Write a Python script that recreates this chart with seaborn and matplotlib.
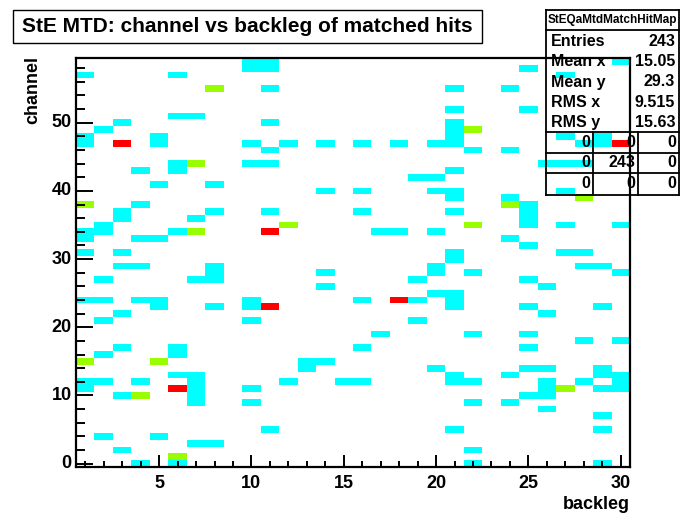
import numpy as np
import pandas as pd
import matplotlib
matplotlib.use('Agg')
import matplotlib.pyplot as plt
from matplotlib.colors import ListedColormap
from matplotlib.lines import Line2D
import seaborn as sns

# cells with 1 hit
cyan_backleg = [10, 11, 30, 10, 11, 25, 1, 6, 27, 11, 21, 24, 21, 25, 6, 7, 3, 11, 21, 2, 21,
                1, 5, 21, 27, 29, 1, 5, 10, 12, 14, 16, 18, 20, 21, 28, 29, 11, 22, 24,
                6, 10, 11, 26, 27, 28, 4, 6, 21, 19, 20, 5, 8, 14, 16, 20, 21, 27, 21, 24, 4, 25,
                3, 8, 11, 16, 21, 25, 3, 7, 25, 2, 25, 27, 30, 1, 2, 6, 17, 18, 20, 1, 4, 5, 24, 25,
                1, 3, 21, 27, 28, 21, 3, 4, 8, 20, 28, 29, 8, 14, 20, 22, 30, 2, 7, 8, 19, 25, 14, 26, 20, 21,
                1, 2, 4, 5, 10, 16, 19, 21, 5, 8, 10, 21, 25, 29, 3, 26, 2, 10, 19, 17, 22, 25, 28, 30,
                3, 6, 16, 25, 2, 6, 13, 14, 13, 20, 25, 26, 29, 6, 7, 21, 24, 29, 30,
                1, 2, 4, 7, 12, 15, 16, 21, 22, 26, 28, 30, 1, 7, 10, 26, 29, 30, 3, 7, 25, 26, 7, 10, 22, 24,
                26, 29, 11, 21, 29, 2, 5, 7, 8, 3, 22, 4, 6, 22, 29]
cyan_channel = [59, 59, 59, 58, 58, 58, 57, 57, 57, 55, 55, 55, 52, 52, 51, 51, 50, 50, 50, 49, 49,
                48, 48, 48, 48, 48, 47, 47, 47, 47, 47, 47, 47, 47, 47, 47, 47, 46, 46, 46,
                44, 44, 44, 44, 44, 44, 43, 43, 43, 42, 42, 41, 41, 40, 40, 40, 40, 40, 39, 39, 38, 38,
                37, 37, 37, 37, 37, 37, 36, 36, 36, 35, 35, 35, 35, 34, 34, 34, 34, 34, 34, 33, 33, 33, 33, 32,
                31, 31, 31, 31, 31, 30, 29, 29, 29, 29, 29, 29, 28, 28, 28, 28, 28, 27, 27, 27, 27, 27, 26, 26, 25, 25,
                24, 24, 24, 24, 24, 24, 24, 24, 23, 23, 23, 23, 23, 23, 22, 22, 21, 21, 21, 19, 19, 19, 18, 18,
                17, 17, 17, 17, 16, 16, 15, 15, 14, 14, 14, 14, 14, 13, 13, 13, 13, 13, 13,
                12, 12, 12, 12, 12, 12, 12, 12, 12, 12, 12, 12, 11, 11, 11, 11, 11, 11, 10, 10, 10, 10, 9, 9, 9, 9,
                8, 7, 5, 5, 5, 4, 4, 3, 3, 2, 2, 0, 0, 0, 0]

# cells with 2 hits
green_backleg = [8, 22, 7, 28, 1, 24, 12, 22, 7, 1, 5, 27, 4, 6]
green_channel = [55, 49, 44, 39, 38, 38, 35, 35, 34, 15, 15, 11, 10, 1]

# cells with 3 hits
red_backleg = [3, 30, 11, 18, 11, 6]
red_channel = [47, 47, 34, 24, 23, 11]

backlegs = list(range(1, 31))
channels = list(range(0, 60))

hits = pd.DataFrame(0, index=channels, columns=backlegs)
for blist, clist, n in [(cyan_backleg, cyan_channel, 1),
                        (green_backleg, green_channel, 2),
                        (red_backleg, red_channel, 3)]:
    for b, c in zip(blist, clist):
        hits.loc[c, b] = n

W, H = 690, 526
fig = plt.figure(figsize=(W / 100, H / 100), dpi=100)
plt.rcParams['font.family'] = ['Liberation Sans', 'DejaVu Sans']

def fx(px):
    return px / W

def fy(py):
    return 1 - py / H

ax = fig.add_axes([fx(76), fy(467), fx(630) - fx(76), fy(58) - fy(467)])
cmap = ListedColormap(['#00FFFF', '#99FF00', '#FF0000'])
sns.heatmap(hits, mask=hits == 0, cmap=cmap, vmin=0.5, vmax=3.5, cbar=False,
            ax=ax, linewidths=0)
ax.invert_yaxis()
ax.set_xlim(0, 30)
ax.set_ylim(0, 60)

for s in ax.spines.values():
    s.set_visible(True)
    s.set_linewidth(1.6)
    s.set_color('black')

xmaj = [5, 10, 15, 20, 25, 30]
ax.set_xticks([b - 0.5 for b in xmaj])
ax.set_xticklabels([str(b) for b in xmaj], rotation=0)
ax.set_xticks([b - 0.5 for b in backlegs], minor=True)
ymaj = [0, 10, 20, 30, 40, 50]
ax.set_yticks([c + 0.5 for c in ymaj])
ax.set_yticklabels([str(c) for c in ymaj], rotation=0)
ax.set_yticks([c + 0.5 for c in range(0, 60, 2)], minor=True)

ax.tick_params(axis='x', which='major', direction='in', length=9, width=1.4, pad=6,
               labelsize=13, bottom=True)
ax.tick_params(axis='x', which='minor', direction='in', length=4.5, width=1.4, bottom=True)
ax.tick_params(axis='y', which='major', direction='in', length=12, width=1.4, pad=3,
               labelsize=13, left=True)
ax.tick_params(axis='y', which='minor', direction='in', length=6.5, width=1.4, left=True)
for lab in ax.get_xticklabels() + ax.get_yticklabels():
    lab.set_fontweight('bold')

ax.set_xlabel('backleg', fontsize=13, fontweight='bold', loc='right')
ax.xaxis.set_label_coords(1.0, -0.072)
ax.set_ylabel('channel', fontsize=13, fontweight='bold', loc='top')
ax.yaxis.set_label_coords(-0.062, 1.005)

# title box
fig.add_artist(plt.Rectangle((fx(13), fy(43)), fx(482) - fx(13), fy(10) - fy(43),
                             fill=False, lw=1.0, ec='black', transform=fig.transFigure))
fig.text(fx(247), fy(26.5), 'StE MTD: channel vs backleg of matched hits', fontsize=15,
         fontweight='bold', ha='center', va='center')

# stats box
def hline(y, x0=546, x1=679):
    fig.add_artist(Line2D([fx(x0), fx(x1)], [fy(y), fy(y)], lw=1.3, color='black',
                          transform=fig.transFigure))

def vline(x, y0, y1):
    fig.add_artist(Line2D([fx(x), fx(x)], [fy(y0), fy(y1)], lw=1.3, color='black',
                          transform=fig.transFigure))

for y in [10, 30, 132, 153, 173, 195]:
    hline(y)
vline(546, 10, 195)
vline(679, 10, 195)
vline(593, 132, 195)
vline(638, 132, 195)

fig.text(fx(612.5), fy(20), 'StEQaMtdMatchHitMap', fontsize=8.5, fontweight='bold',
         ha='center', va='center')
stat_names = ['Entries', 'Mean x', 'Mean y', 'RMS x', 'RMS y']
stat_values = ['243', '15.05', '29.3', '9.515', '15.63']
stat_rows = [41.5, 61.5, 82, 102.5, 123]
for name, val, y in zip(stat_names, stat_values, stat_rows):
    fig.text(fx(551), fy(y), name, fontsize=11.5, fontweight='bold', ha='left', va='center')
    fig.text(fx(675), fy(y), val, fontsize=11.5, fontweight='bold', ha='right', va='center')

grid_values = [['0', '0', '0'], ['0', '243', '0'], ['0', '0', '0']]
grid_rows = [142.5, 163, 184]
grid_right = [590, 635, 676]
for row, y in zip(grid_values, grid_rows):
    for val, x in zip(row, grid_right):
        fig.text(fx(x), fy(y), val, fontsize=11.5, fontweight='bold', ha='right', va='center')

fig.savefig('out.png', dpi=100)
